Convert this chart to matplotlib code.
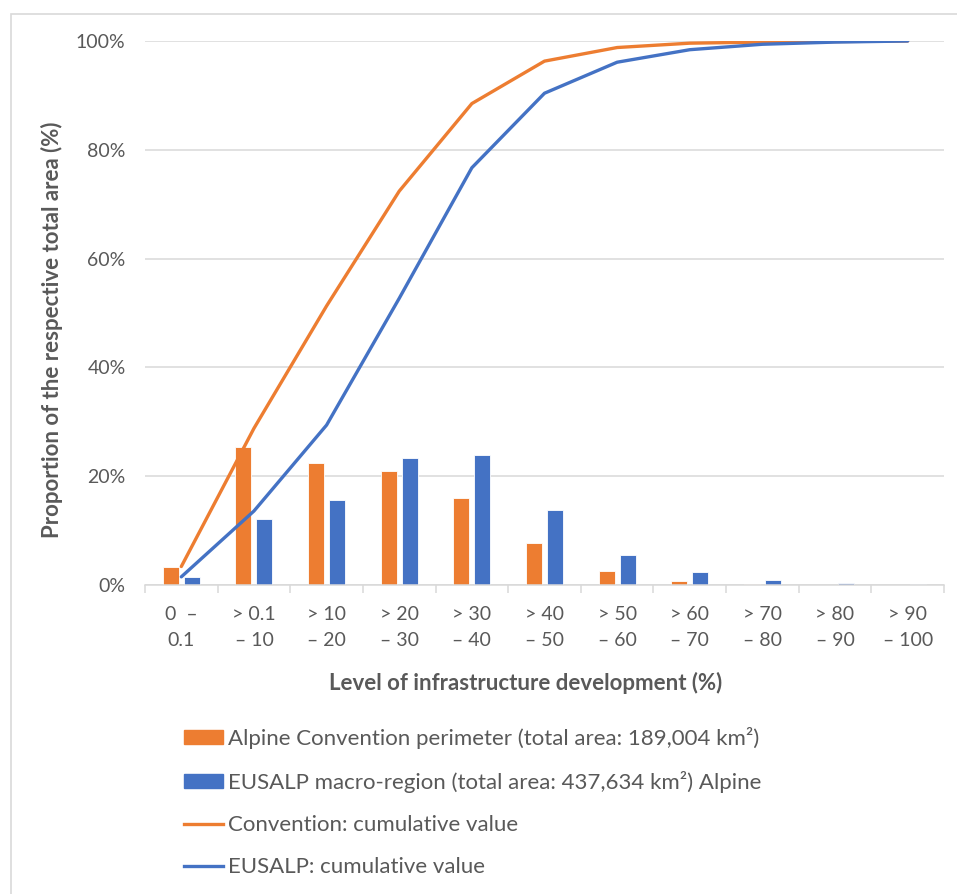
import matplotlib.pyplot as plt
from matplotlib.patches import Patch, Rectangle
from matplotlib.lines import Line2D
from matplotlib.ticker import PercentFormatter

plt.rcParams['font.family'] = ['Lato', 'DejaVu Sans']

categories = ["0  \u2013\n0.1", "> 0.1\n\u2013 10", "> 10\n\u2013 20", "> 20\n\u2013 30",
              "> 30\n\u2013 40", "> 40\n\u2013 50", "> 50\n\u2013 60", "> 60\n\u2013 70",
              "> 70\n\u2013 80", "> 80\n\u2013 90", "> 90\n\u2013 100"]
alpine_conv = [3.4, 25.4, 22.5, 21.0, 16.0, 7.8, 2.5, 0.7, 0.2, 0.05, 0.02]
eusalp = [1.5, 12.1, 15.7, 23.3, 23.9, 13.7, 5.6, 2.3, 0.9, 0.35, 0.15]
conv_cum = [3.4, 28.8, 51.3, 72.4, 88.5, 96.3, 98.8, 99.6, 99.8, 99.9, 100.0]
eusalp_cum = [1.5, 13.6, 29.4, 52.7, 76.7, 90.4, 96.1, 98.4, 99.4, 99.8, 100.0]

orange = '#ED7D31'
blue = '#4472C4'
grey = '#595959'
grid_c = '#D9D9D9'

W, H = 957, 894
fig = plt.figure(figsize=(W / 100, H / 100), dpi=100)
ax = fig.add_axes([145 / W, (H - 585) / H, (944 - 145) / W, (585 - 41) / H])

x = list(range(len(categories)))
bw = 0.22
ax.bar([i - 0.145 for i in x], alpine_conv, width=bw, color=orange,
       edgecolor='white', linewidth=0.6, zorder=2)
ax.bar([i + 0.145 for i in x], eusalp, width=bw, color=blue,
       edgecolor='white', linewidth=0.6, zorder=2)
ax.plot(x, conv_cum, color=orange, lw=2.4, zorder=3, solid_capstyle='round')
ax.plot(x, eusalp_cum, color=blue, lw=2.4, zorder=3, solid_capstyle='round')

ax.set_xlim(-0.5, len(categories) - 0.5)
ax.set_ylim(0, 100)
ax.set_yticks([0, 20, 40, 60, 80, 100])
ax.yaxis.set_major_formatter(PercentFormatter(decimals=0))
ax.grid(axis='y', color=grid_c, lw=1.1, zorder=0)
ax.tick_params(axis='y', length=0, labelsize=14, labelcolor=grey, pad=14)

ax.set_xticks([i - 0.5 for i in range(len(categories) + 1)])
ax.set_xticklabels([])
ax.set_xticks(x, minor=True)
ax.set_xticklabels(categories, minor=True, fontsize=14, color=grey, linespacing=1.65)
ax.tick_params(axis='x', which='major', length=6, color=grid_c, width=1.1)
ax.tick_params(axis='x', which='minor', length=0, pad=15)

for s in ['top', 'right', 'left']:
    ax.spines[s].set_visible(False)
ax.spines['bottom'].set_color(grid_c)
ax.spines['bottom'].set_linewidth(1.1)

fig.text(526 / W, 1 - 683 / H, 'Level of infrastructure development (%)',
         ha='center', va='center', fontsize=16, fontweight='bold', color=grey)
fig.text(52 / W, 1 - 330 / H, 'Proportion of the respective total area (%)',
         ha='center', va='center', rotation=90, fontsize=16, fontweight='bold', color=grey)

handles = [Patch(color=orange), Patch(color=blue),
           Line2D([], [], color=orange, lw=2.4), Line2D([], [], color=blue, lw=2.4)]
labels = ['Alpine Convention perimeter (total area: 189,004 km\u00b2)',
          'EUSALP macro-region (total area: 437,634 km\u00b2) Alpine',
          'Convention: cumulative value',
          'EUSALP: cumulative value']
leg = fig.legend(handles, labels, loc='upper left', bbox_to_anchor=(184 / W, 1 - 727 / H),
                 frameon=False, fontsize=16, handlelength=1.75, handleheight=0.6,
                 handletextpad=0.22, labelspacing=0.99, borderpad=0, borderaxespad=0)
for t in leg.get_texts():
    t.set_color(grey)

fig.patches.append(Rectangle((11 / W, -0.1), 1.2, 1 - 14 / H + 0.1, transform=fig.transFigure,
                             fill=False, edgecolor=grid_c, lw=1.2))

fig.savefig('out.png', dpi=100)
